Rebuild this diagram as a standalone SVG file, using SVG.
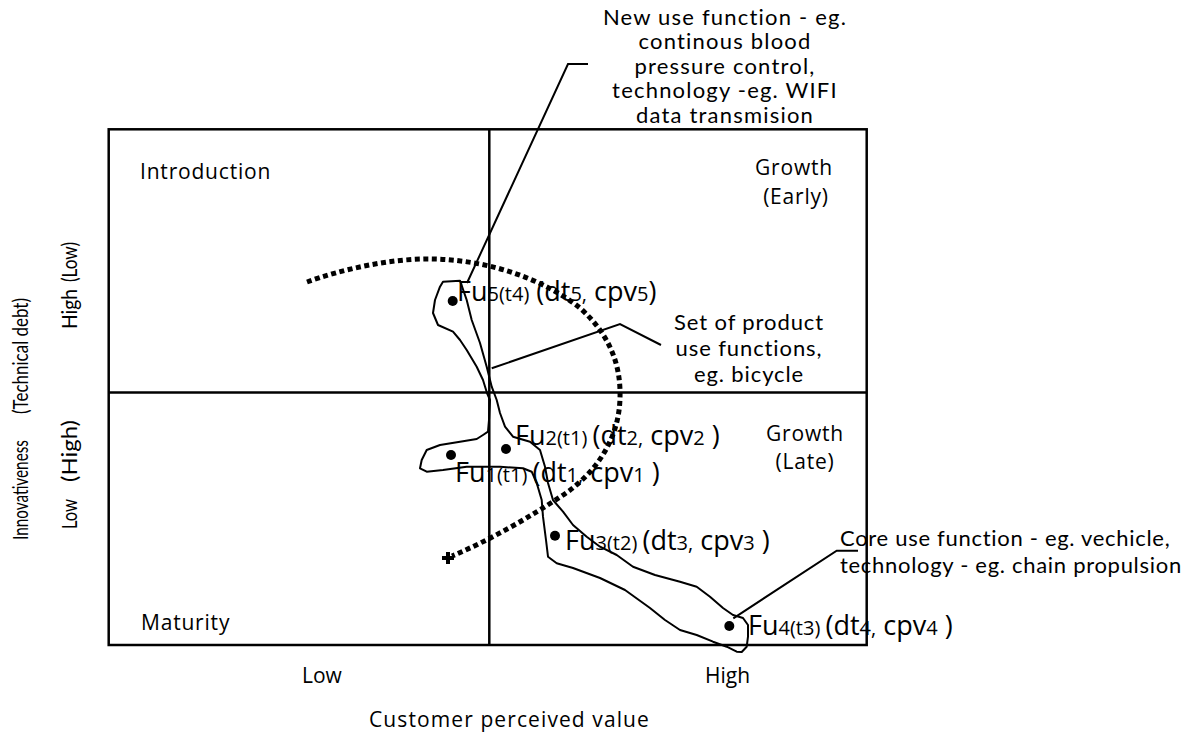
<svg xmlns="http://www.w3.org/2000/svg" width="1195" height="732" viewBox="0 0 1195 732">
<style>
text{font-family:"Open Sans","Liberation Sans",sans-serif;fill:#000}
.q{font-size:21px;letter-spacing:0.8px}
.ax{font-size:21px}
.an{font-family:Lato,"Open Sans",sans-serif;font-size:22px}
.vt{font-family:Lato,"Open Sans",sans-serif;font-size:21px}
.big{font-size:27px}
.sm{font-size:20px}
.ln{fill:none;stroke:#000;stroke-width:2.5}
.ld{fill:none;stroke:#000;stroke-width:2}
.dot{fill:#000}
</style>
<rect width="1195" height="732" fill="#fff"/>
<g id="frame">
<rect class="ln" x="108.7" y="129.3" width="758" height="515.7"/>
<line class="ln" x1="489.3" y1="129.3" x2="489.3" y2="645"/>
<line class="ln" x1="108.7" y1="392.5" x2="866.7" y2="392.5"/>
</g>
<g id="axis-labels">
<text class="vt" transform="translate(28,540) rotate(-90)" textLength="100" lengthAdjust="spacingAndGlyphs">Innovativeness</text>
<text class="vt" transform="translate(28,414) rotate(-90)" textLength="116" lengthAdjust="spacingAndGlyphs">(Technical debt)</text>
<text class="vt" transform="translate(77,529) rotate(-90)" textLength="30" lengthAdjust="spacingAndGlyphs">Low</text>
<text class="vt" transform="translate(77,482) rotate(-90)" textLength="62" lengthAdjust="spacingAndGlyphs">(High)</text>
<text class="vt" transform="translate(77,329) rotate(-90)" textLength="40" lengthAdjust="spacingAndGlyphs">High</text>
<text class="vt" transform="translate(77,282) rotate(-90)" textLength="40" lengthAdjust="spacingAndGlyphs">(Low)</text>
<text class="ax" x="302" y="683">Low</text>
<text class="ax" x="705" y="683">High</text>
<text class="ax" x="369" y="727" letter-spacing="1.1">Customer  perceived value</text>
</g>
<g id="quadrant-labels">
<text class="q" x="140" y="179">Introduction</text>
<text class="q" x="794" y="175" text-anchor="middle">Growth</text>
<text class="q" x="796" y="204" text-anchor="middle">(Early)</text>
<text class="q" x="805" y="441" text-anchor="middle">Growth</text>
<text class="q" x="805" y="469" text-anchor="middle">(Late)</text>
<text class="q" x="141" y="630">Maturity</text>
</g>
<g id="product-set">
<path class="ld" stroke-linejoin="round" d="M443,281.7 L460,280.7 L466.7,300 L471.7,320 L480,343 L486.7,366.7 L491.7,386.7 L496.7,400 L500,413 L505,426.7 L513,436.7 L530,441.7 L540,450 L545,466.7 L548,483 L553,500 L563,511.7 L573,525 L586.7,536.7 L600,546.7 L616.7,555 L633,566.7 L655,575 L680,581.7 L696.7,586.7 L710,596.7 L723,608 L733,615 L743,618 L748,625 L748,636.7 L746.7,646.7 L741.7,652 L736.7,651.7 L726.7,646.7 L713,641.7 L696.7,635 L680,630 L665,620 L650,608 L625,590 L600,578 L573,568 L556.7,563.3 L548,556.7 L546,540 L543,516.7 L541.7,500 L536.7,483 L531.7,471.7 L523,468.3 L500,466.7 L466.7,466.7 L443,470 L426.7,471.7 L420,468.3 L421.7,460 L426.7,450 L440,445 L460,441.7 L476.7,439 L483,435 L488,431.7 L489,420 L490,400 L487,393 L483,380 L476.7,366.7 L466.7,350 L460,340 L453,331.7 L438,325 L433,313 L435,300 L440,286.7 Z"/>
</g>
<g id="trajectory">
<path fill="none" stroke="#000" stroke-width="5" stroke-dasharray="5 3.5" d="M307,282 C340,270 390,258 433,259 C490,260 545,280 580,308 C610,335 621,365 620,398 C619,440 595,475 560,497 C530,517 490,540 452,556"/>
<path fill="none" stroke="#000" stroke-width="4" d="M442,558 L454,558 M448,552 L448,564"/>
</g>
<g id="fu5">
<circle class="dot" cx="452.7" cy="301" r="5"/>
<text x="457" y="301"><tspan class="big">Fu</tspan><tspan class="sm">5(t4)</tspan><tspan class="big"> (dt</tspan><tspan class="sm">5,</tspan><tspan class="big"> cpv</tspan><tspan class="sm">5</tspan><tspan class="big">)</tspan></text>
</g>
<g id="fu2">
<circle class="dot" cx="506" cy="449" r="5"/>
<text x="515" y="445"><tspan class="big">Fu</tspan><tspan class="sm">2(t1) </tspan><tspan class="big">(dt</tspan><tspan class="sm">2,</tspan><tspan class="big"> cpv</tspan><tspan class="sm">2</tspan><tspan class="big"> )</tspan></text>
</g>
<g id="fu1">
<circle class="dot" cx="451" cy="455" r="5"/>
<text x="455" y="482"><tspan class="big">Fu</tspan><tspan class="sm">1(t1) </tspan><tspan class="big">(dt</tspan><tspan class="sm">1,</tspan><tspan class="big"> cpv</tspan><tspan class="sm">1</tspan><tspan class="big"> )</tspan></text>
</g>
<g id="fu3">
<circle class="dot" cx="555" cy="535.7" r="5"/>
<text x="565" y="550"><tspan class="big">Fu</tspan><tspan class="sm">3(t2) </tspan><tspan class="big">(dt</tspan><tspan class="sm">3,</tspan><tspan class="big"> cpv</tspan><tspan class="sm">3</tspan><tspan class="big"> )</tspan></text>
</g>
<g id="fu4">
<circle class="dot" cx="729.3" cy="626" r="5"/>
<text x="748" y="635"><tspan class="big">Fu</tspan><tspan class="sm">4(t3) </tspan><tspan class="big">(dt</tspan><tspan class="sm">4,</tspan><tspan class="big"> cpv</tspan><tspan class="sm">4</tspan><tspan class="big"> )</tspan></text>
</g>
<g id="note-new-use">
<text class="an" text-anchor="middle" font-size="20.5" letter-spacing="1.2"><tspan x="725" y="24.5">New use function - eg.</tspan><tspan x="725" y="49">continous blood</tspan><tspan x="725" y="73.5">pressure control,</tspan><tspan x="725" y="98">technology -eg. WIFI</tspan><tspan x="725" y="122.5">data transmision</tspan></text>
</g>
<g id="note-product-set">
<text class="an" text-anchor="middle" letter-spacing="0.9"><tspan x="749" y="330">Set of product</tspan><tspan x="749" y="356">use functions,</tspan><tspan x="749" y="382">eg. bicycle</tspan></text>
</g>
<g id="note-core-use">
<text class="an" letter-spacing="0.7"><tspan x="840" y="546">Core use function - eg. vechicle,</tspan><tspan x="840" y="573">technology - eg. chain propulsion</tspan></text>
</g>
<g id="connectors">
<polyline class="ld" points="467,283 568,64 588,64"/>
<polyline class="ld" points="491.7,368.3 620,324 661,345"/>
<polyline class="ld" points="733.3,618.3 836.7,550.7 858,550.7"/>
</g>
</svg>
